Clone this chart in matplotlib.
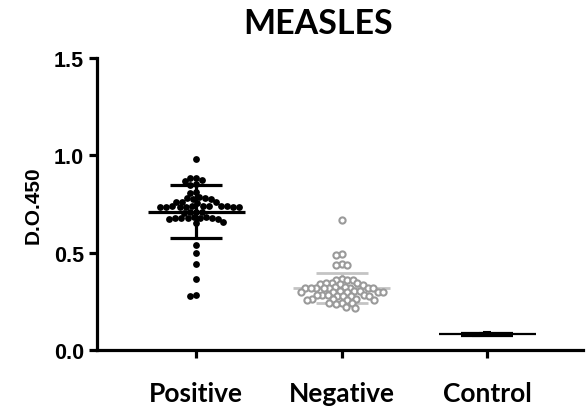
import numpy as np
import matplotlib.pyplot as plt

groups = ['Positive', 'Negative', 'Control']
positive = [0.98,
            0.885, 0.883, 0.872, 0.868,
            0.852, 0.848,
            0.812, 0.806,
            0.785, 0.78, 0.778, 0.782, 0.776,
            0.762, 0.758, 0.76, 0.755,
            0.742, 0.74, 0.738, 0.737, 0.736, 0.735, 0.739, 0.733, 0.741, 0.734, 0.738, 0.736,
            0.71, 0.708, 0.705, 0.707,
            0.684, 0.68, 0.678, 0.676, 0.675, 0.679, 0.677, 0.681, 0.674,
            0.658, 0.652,
            0.54, 0.50, 0.44, 0.365, 0.282, 0.278]
negative = [0.67,
            0.495, 0.49,
            0.44, 0.437, 0.435,
            0.365, 0.36, 0.358, 0.362,
            0.345, 0.342, 0.34, 0.338, 0.343, 0.336,
            0.322, 0.32, 0.318, 0.321, 0.319, 0.317, 0.323, 0.316, 0.32, 0.318,
            0.302, 0.3, 0.298, 0.301, 0.297, 0.299, 0.303, 0.296,
            0.282, 0.28, 0.278, 0.281, 0.277, 0.279, 0.283, 0.276,
            0.262, 0.26, 0.258, 0.261, 0.257, 0.259,
            0.242, 0.24, 0.238, 0.241,
            0.222, 0.218]
control = [0.09, 0.086, 0.082, 0.08, 0.076, 0.072]

fig = plt.figure(figsize=(5.87, 4.10), dpi=100)
ax = fig.add_axes([97/587, 1-351/410, (583-97)/587, (351-59)/410])
ax.set_xlim(0.317, 3.66)
ax.set_ylim(0, 1.5)

# pixels per data unit, used to lay out the swarm
px_x = (583-97) / (3.66-0.317)
px_y = (351-59) / 1.5


def swarm(vals, center, diam):
    order = np.argsort(vals)[::-1]
    placed = []
    xs = np.zeros(len(vals))
    for i in order:
        y = vals[i] * px_y
        bad = []
        for (px, py) in placed:
            dy = abs(py - y)
            if dy < diam:
                w = np.sqrt(diam**2 - dy**2)
                bad.append((px - w, px + w))
        cands = [0.0] + [b[0] for b in bad] + [b[1] for b in bad]
        cands = sorted(cands, key=abs)
        for c in cands:
            if all(not (lo + 1e-6 < c < hi - 1e-6) for lo, hi in bad):
                x = c
                break
        placed.append((x, y))
        xs[i] = center + x / px_x
    return xs


pos_x = swarm(positive, 1, 6.0)
neg_x = swarm(negative, 2, 5.6)
ctl_x = swarm(control, 3, 4.0)

ax.scatter(pos_x, positive, s=24, color='black', zorder=3, linewidths=0)
ax.scatter(neg_x, negative, s=20, facecolors='white', edgecolors='#9a9a9a', linewidths=1.5, zorder=3)
ax.scatter(ctl_x, control, s=40, marker='_', color='black', linewidths=1.5, zorder=3)

mean_w = 48.5 / px_x
cap_w = 26 / px_x
for xc, vals, col, lw, z in [(1, positive, 'black', 2.3, 4), (2, negative, '#c4c4c4', 2.0, 2), (3, control, 'black', 1.6, 4)]:
    m = np.mean(vals)
    sd = np.std(vals, ddof=1)
    ax.hlines(m, xc - mean_w, xc + mean_w, color=col, lw=lw, zorder=z)
    ax.hlines([m - sd, m + sd], xc - cap_w, xc + cap_w, color=col, lw=lw, zorder=z)
    ax.vlines(xc, m - sd, m + sd, color=col, lw=lw, zorder=z)

for s in ['top', 'right']:
    ax.spines[s].set_visible(False)
for s in ['left', 'bottom']:
    ax.spines[s].set_linewidth(2.3)
ax.tick_params(width=2.3, length=6)
ax.set_yticks([0, 0.5, 1.0, 1.5])
ax.set_yticklabels(['0.0', '0.5', '1.0', '1.5'], fontsize=15.5, fontweight='bold', family='Liberation Sans')
ax.set_xticks([1, 2, 3])
ax.set_xticklabels(groups, fontsize=19, fontweight='bold', family='Lato')
ax.tick_params(axis='x', pad=16)
ax.set_ylabel('D.O.450', fontsize=15, fontweight='bold', family='Liberation Sans', labelpad=8)
fig.text(318/587, 1-24/410, 'MEASLES', ha='center', va='center', fontsize=24.5, fontweight='bold', family='Lato')

fig.savefig('out.png', dpi=100)
